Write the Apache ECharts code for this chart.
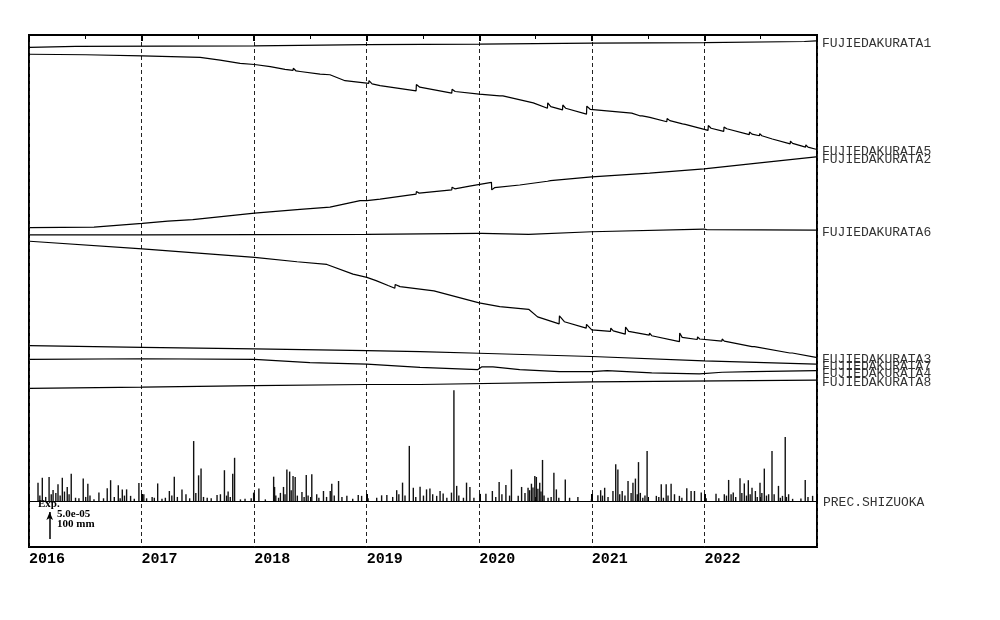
<!DOCTYPE html>
<html>
<head>
<meta charset="utf-8">
<script src="https://cdn.jsdelivr.net/npm/echarts@6/dist/echarts.min.js"></script>
<style>html,body{margin:0;padding:0;background:#fff}#c{width:1000px;height:620px}</style>
</head>
<body>
<div id="c"></div>
<script>
// ---- tick labels ----
const yearTicks = ['2016','2017','2018','2019','2020','2021','2022'];

// ---- strain series (relative change, 1e-6 strain) ----
const seriesNames = ['FUJIEDAKURATA1','FUJIEDAKURATA5','FUJIEDAKURATA2','FUJIEDAKURATA6',
                     'FUJIEDAKURATA3','FUJIEDAKURATA7','FUJIEDAKURATA4','FUJIEDAKURATA8'];

const kurata1 = [['2016-01-01',0],['2016-05-30',2],['2017-12-31',3],['2018-01-02',4],['2019-01-01',5],
  ['2020-01-01',6],['2021-01-01',8],['2022-01-01',9],['2022-11-23',11],['2022-11-24',12],['2022-12-31',12]];

const kurata5 = [['2016-01-01',0],['2016-07-01',-1],['2017-01-01',-3],['2017-07-08',-6],['2017-09-11',-11],
  ['2017-11-15',-17],['2018-01-01',-19],['2018-02-21',-23],['2018-04-10',-28],['2018-05-06',-30],['2018-05-07',-26],
  ['2018-05-16',-31],['2018-05-29',-32],['2018-08-02',-37],['2018-09-03',-38],['2018-10-22',-49],['2019-01-07',-54],
  ['2019-01-08',-49],['2019-01-18',-55],['2019-02-13',-58],['2019-06-10',-68],['2019-06-11',-56],['2019-06-22',-61],
  ['2019-10-04',-72],['2019-10-05',-65],['2019-10-15',-69],['2020-01-01',-74],['2020-03-08',-77],['2020-03-09',-74],
  ['2020-03-18',-77],['2020-06-25',-90],['2020-08-10',-100],['2020-08-11',-90],['2020-08-21',-97],['2020-09-28',-103],
  ['2020-09-29',-94],['2020-10-08',-100],['2020-12-15',-111],['2020-12-16',-96],['2020-12-27',-102],['2021-05-11',-109],
  ['2021-06-06',-114],['2021-06-07',-111],['2021-06-14',-114],['2021-07-01',-116],['2021-07-02',-113],['2021-07-09',-117],
  ['2021-09-02',-125],['2021-09-03',-119],['2021-09-12',-123],['2021-10-23',-129],['2021-10-24',-126],['2021-11-01',-130],
  ['2022-01-14',-141],['2022-01-15',-132],['2022-01-24',-137],['2022-03-06',-143],['2022-03-07',-135],['2022-03-16',-138],
  ['2022-05-28',-149],['2022-05-29',-144],['2022-06-06',-148],['2022-06-30',-151],['2022-07-01',-147],['2022-07-08',-151],
  ['2022-08-11',-157],['2022-10-08',-166],['2022-10-09',-161],['2022-10-16',-165],['2022-11-27',-172],['2022-11-28',-168],
  ['2022-12-05',-172],['2022-12-31',-176]];

const kurata2 = [['2016-01-01',0],['2016-07-28',1],['2017-01-01',8],['2017-03-25',12],['2017-06-14',15],['2018-01-01',27],
  ['2018-05-29',34],['2018-09-03',38],['2018-10-22',44],['2018-12-10',50],['2019-01-01',50],['2019-02-13',53],
  ['2019-06-10',62],['2019-06-11',67],['2019-06-20',64],['2019-10-04',70],['2019-10-05',75],['2019-10-14',72],
  ['2019-12-01',77],['2020-02-10',84],['2020-02-11',70],['2020-02-20',74],['2020-05-12',79],['2020-08-10',86],
  ['2020-08-11',89],['2020-08-20',87],['2021-01-01',94],['2021-07-08',101],['2022-01-01',109],['2022-07-01',120],
  ['2022-12-31',131]];

const kurata6 = [['2016-01-01',0],['2017-01-01',0],['2019-01-01',1],['2019-12-28',3],['2020-01-02',5],['2020-01-10',3],
  ['2020-06-10',1],['2021-01-01',6],['2022-01-01',11],['2022-01-10',10],['2022-12-31',9]];

const kurata3 = [['2016-01-01',0],['2017-01-01',-14],['2018-01-01',-30],['2018-05-19',-38],['2018-08-24',-43],
  ['2018-11-17',-61],['2019-01-01',-67],['2019-01-31',-73],['2019-03-11',-82],['2019-04-02',-87],['2019-04-03',-80],
  ['2019-04-19',-84],['2019-08-07',-92],['2020-01-01',-114],['2020-03-08',-121],['2020-06-10',-126],['2020-07-09',-140],
  ['2020-09-17',-153],['2020-09-18',-138],['2020-10-04',-149],['2020-12-14',-161],['2020-12-15',-154],['2021-01-01',-164],
  ['2021-03-03',-167],['2021-03-04',-161],['2021-03-12',-166],['2021-04-20',-172],['2021-04-21',-159],['2021-05-01',-167],
  ['2021-07-07',-174],['2021-07-08',-170],['2021-07-15',-175],['2021-10-13',-186],['2021-10-14',-170],['2021-10-22',-178],
  ['2021-12-10',-182],['2021-12-11',-177],['2021-12-18',-181],['2022-02-28',-185],['2022-03-01',-181],['2022-03-08',-185],
  ['2022-06-06',-195],['2022-06-07',-192],['2022-06-14',-195],['2022-10-07',-207],['2022-10-08',-204],['2022-10-15',-207],
  ['2022-12-31',-215]];

const kurata7 = [['2016-01-01',0],['2017-01-01',-3],['2018-01-01',-6],['2019-01-01',-9],['2019-06-23',-11],
  ['2020-01-01',-14],['2021-01-01',-20],['2022-01-01',-28],['2022-12-31',-34]];

const kurata4 = [['2016-01-01',0],['2017-01-01',1],['2018-01-01',0],['2018-06-30',-6],['2019-01-01',-9],['2019-06-23',-15],
  ['2019-12-28',-19],['2020-01-10',-14],['2020-02-15',-14],['2020-05-12',-19],['2020-09-18',-23],['2021-01-01',-23],
  ['2021-02-20',-21],['2021-07-15',-25],['2021-12-17',-27],['2022-03-01',-24],['2022-06-07',-23],['2022-12-31',-21]];

const kurata8 = [['2016-01-01',0],['2017-01-01',2],['2018-01-01',5],['2019-01-01',7],['2019-06-23',7],
  ['2021-01-01',12],['2022-12-31',15]];

// ---- daily precipitation at Shizuoka (day number from 2016-01-01, mm) ----
const precipDay = [27,41,63,76,92,106,122,135,149,174,189,209,225,252,263,288,301,315,328,355,
  371,398,416,441,454,470,495,508,533,549,557,577,609,620,633,645,660,666,685,728,
  745,766,793,796,809,825,836,845,856,863,885,899,917,933,955,977,982,1004,1015,1031,
  1068,1079,1128,1144,1161,1193,1212,1234,1247,1269,1290,1301,1323,1334,1344,1371,1379,1388,1420,1431,
  1444,1463,1483,1504,1526,1548,1566,1588,1599,1620,1631,1642,1647,1658,1667,1685,1704,1712,1741,1755,
  1782,1826,1847,1856,1869,1896,1905,1912,1926,1945,1961,1969,1979,1993,2007,2037,2053,2069,2085,2096,
  2112,2136,2150,2161,2183,2199,2231,2258,2272,2287,2309,2323,2336,2348,2359,2374,2388,2402,2413,2434,
  2447,2456,2467,2507,2521,2545,
  33,52,70,85,99,113,128,160,182,196,240,275,294,308,340,
  380,405,430,462,480,520,540,565,590,640,652,700,720,
  800,815,830,850,870,892,905,940,965,990,1050,
  1100,1180,1200,1220,1255,1280,1310,1356,1395,1410,
  1515,1535,1560,1610,1625,1636,1652,1662,1672,1695,1720,
  1862,1880,1918,1935,1955,1975,1985,2000,2045,2060,2075,2120,
  2240,2265,2280,2295,2315,2330,2342,2365,2380,2395,2420,2440,2460,2480,2530];
const precipMM = [68,86,89,41,62,86,52,101,12,83,64,6,31,47,77,58,43,43,19,67,
  25,15,65,12,37,90,43,25,222,95,120,12,22,25,114,35,101,160,6,31,
  46,6,90,52,12,52,117,109,93,89,33,96,99,25,37,37,64,74,15,19,
  22,19,12,21,22,40,68,204,49,53,43,46,19,37,28,31,410,56,68,52,
  12,27,27,37,70,59,117,19,52,49,64,93,89,68,152,12,105,43,80,12,
  15,6,21,40,49,37,136,117,37,74,68,83,144,12,185,19,62,62,64,25,
  19,47,37,37,31,10,27,25,78,31,84,65,77,49,37,68,120,25,185,56,
  19,237,25,9,78,19,
  20,15,25,30,20,35,25,10,15,20,10,15,10,20,8,
  10,12,8,20,15,10,30,15,10,20,15,8,10,
  20,30,25,40,20,15,20,12,15,20,8,
  10,15,25,20,15,20,25,12,20,12,
  15,25,20,30,40,50,45,35,20,15,12,
  20,15,25,20,30,25,30,20,15,12,20,12,
  10,20,25,15,30,20,25,15,30,20,25,12,15,8,15];

// ---- display layout (not data) ----
const displayOffset = [925.1, 912.5, 591.3, 577.8, 566.2, 372.8, 347.6, 293.9]; // trace placement, 1e-6 units
const seriesData = [kurata1, kurata5, kurata2, kurata6, kurata3, kurata7, kurata4, kurata8];
const FONT_LBL = 'Liberation Mono';

const chart = echarts.init(document.getElementById('c'), null, {renderer: 'canvas'});

const lineSeries = seriesData.map((d, i) => ({
  name: seriesNames[i],
  type: 'line',
  xAxisIndex: 0, yAxisIndex: 0,
  showSymbol: false, symbol: 'none',
  data: d.map(p => [p[0], +(displayOffset[i] + p[1]).toFixed(1)]),
  lineStyle: {color: '#000', width: 1.2},
  endLabel: {show: true, formatter: seriesNames[i], fontFamily: FONT_LBL, fontSize: 13,
             color: '#333', distance: 6, offset: [0, 2.5]},
  z: 3
}));

const precipData = precipDay.map((d, i) => [new Date(2016, 0, 1 + d).getTime(), precipMM[i]]);

const arrowT = new Date(2016, 2, 6).getTime();

const option = {
  animation: false,
  backgroundColor: '#fff',
  grid: {left: 29, right: 183, top: 35, bottom: 73, show: true, borderColor: '#000', borderWidth: 2, backgroundColor: 'transparent'},
  xAxis: [
    {type: 'time', min: new Date(2016,0,1).getTime(), max: new Date(2023,0,1).getTime(), show: false},
    {type: 'value', position: 'bottom', min: 2016, max: 2023, interval: 1,
     axisLine: {show: false},
     axisTick: {show: true, inside: true, length: 7, lineStyle: {color: '#000', width: 2}},
     minorTick: {show: true, splitNumber: 2, length: 4, lineStyle: {color: '#000', width: 1}},
     splitLine: {show: true, lineStyle: {color: '#222', width: 1, type: [4, 3]}},
     axisLabel: {show: true, align: 'left', margin: 5, fontFamily: FONT_LBL, fontWeight: 'bold', fontSize: 15, color: '#000',
       formatter: v => yearTicks[yearTicks.indexOf(String(v))] || '', showMaxLabel: false}},
    {type: 'value', position: 'top', min: 2016, max: 2023, interval: 1,
     axisLine: {show: false},
     axisTick: {show: true, inside: true, length: 6, lineStyle: {color: '#000', width: 2}},
     minorTick: {show: true, splitNumber: 2, length: 4, lineStyle: {color: '#000', width: 1}},
     splitLine: {show: false}, axisLabel: {show: false}}
  ],
  yAxis: [
    {type: 'value', min: 0, max: 948.1, show: false, splitLine: {show: false}},
    {type: 'value', min: -170.4, max: 1725.9, show: false, splitLine: {show: false}}
  ],
  series: lineSeries.concat([{
    name: 'PREC.SHIZUOKA',
    type: 'bar',
    xAxisIndex: 0, yAxisIndex: 1,
    barWidth: 1.4,
    data: precipData,
    itemStyle: {color: '#111'},
    z: 2,
    markLine: {
      silent: true, symbol: 'none', animation: false,
      data: [
        {yAxis: 0, lineStyle: {color: '#000', width: 1, type: 'solid'},
         label: {show: true, position: 'end', formatter: 'PREC.SHIZUOKA', fontFamily: FONT_LBL, fontSize: 13, color: '#333', distance: 6, offset: [0, 2]}},
        [{coord: [arrowT, -141], symbol: 'none', lineStyle: {color: '#000', width: 1.5, type: 'solid'}, label: {show: false}},
         {coord: [arrowT, -41], symbol: 'arrow', symbolSize: [5, 8]}]
      ]
    }
  }]),
  graphic: [
    {type: 'text', left: 38, top: 499, style: {text: 'Exp.', font: 'bold 11px "Liberation Serif"', fill: '#000'}},
    {type: 'text', left: 57, top: 509, style: {text: '5.0e-05', font: 'bold 11px "Liberation Serif"', fill: '#000'}},
    {type: 'text', left: 57, top: 519, style: {text: '100 mm', font: 'bold 11px "Liberation Serif"', fill: '#000'}}
  ]
};
chart.setOption(option);
</script>
</body>
</html>
